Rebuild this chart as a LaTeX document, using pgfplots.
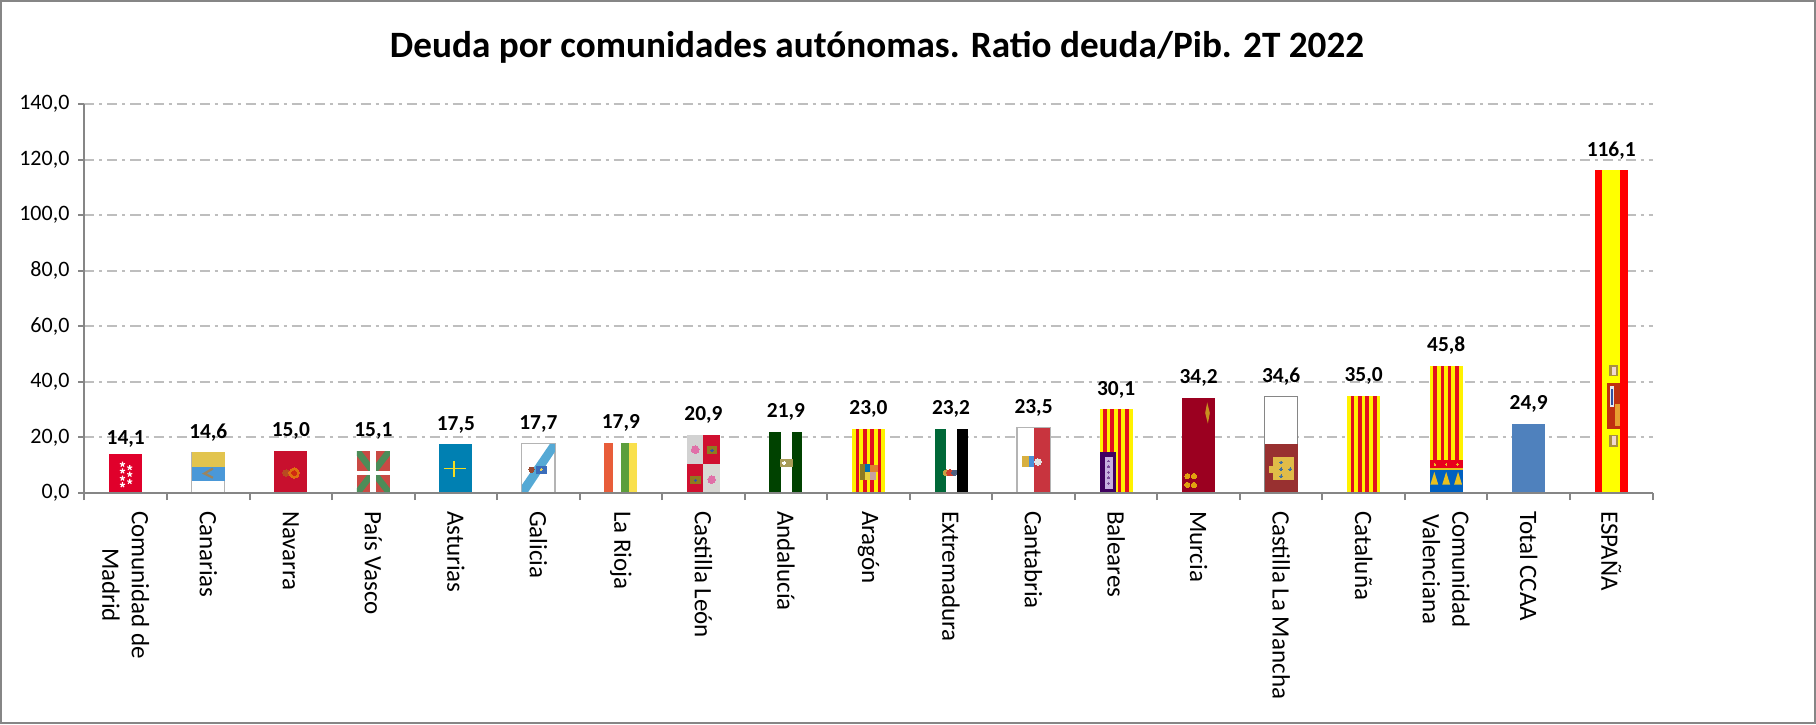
\documentclass[border=0pt]{standalone}
\usepackage{pgfplots}
\usepackage{pgfplotstable}
\usepackage{fontspec}
\setmainfont{Carlito}
\pgfplotsset{compat=1.18}

\definecolor{axisgray}{HTML}{868686}
\definecolor{gridgray}{HTML}{BEBEBE}

% category, value, label offset in pt
\pgfplotstableread{
cat val dy
1 14.1 -2.5
2 14.6 0
3 15.0 0
4 15.1 0
5 17.5 0
6 17.7 0
7 17.9 0
8 20.9 0
9 21.9 0
10 23.0 0
11 23.2 0
12 23.5 0
13 30.1 0
14 34.2 0
15 34.6 0
16 35.0 0
17 45.8 0
18 24.9 0
19 116.1 0
}\deuda

% flags are drawn in bar coordinates: u from 0 to 1 across the bar, y in axis units
\pgfplotsset{on/.style={forget plot,x filter/.expression={#1-0.2+0.4*x}}}
\newcommand\hx[1]{\xglobal\definecolor{c#1}{HTML}{#1}}
\newcommand\rc[6]{\hx{#1}\addplot[on=#2,draw=none,fill=c#1] coordinates {(#3,#5)(#4,#5)(#4,#6)(#3,#6)} --cycle;}
\newcommand\poly[3]{\hx{#1}\addplot[on=#2,draw=none,fill=c#1] coordinates {#3} --cycle;}
\newcommand\lin[4]{\hx{#1}\addplot[on=#2,draw=c#1,line width=#3,no marks] coordinates {#4};}
\newcommand\pts[4]{\hx{#1}\addplot[on=#2,only marks,mark=*,mark size=#3,mark options={solid,draw=c#1,fill=c#1,line width=0pt}] coordinates {#4};}
\newcommand\rim[3]{\hx{#2}\addplot[on=#1,draw=c#2,line width=0.6pt,no marks] coordinates {(0,0)(0,#3)(1,#3)(1,0)};}
\newcommand\barres[2]{% yellow with four red stripes
  \rc{FFF200}{#1}{0}{1}{0}{#2}
  \rc{E2101E}{#1}{.11}{.22}{0}{#2}
  \rc{E2101E}{#1}{.33}{.44}{0}{#2}
  \rc{E2101E}{#1}{.55}{.66}{0}{#2}
  \rc{E2101E}{#1}{.78}{.89}{0}{#2}}

\begin{document}
\begin{tikzpicture}
\useasboundingbox (0,0) rectangle (908pt,362pt);
\draw[line width=1pt,axisgray] (0.5pt,0.5pt) rectangle (907.5pt,361.5pt);
\begin{axis}[
  at={(42.25pt,115.5pt)},anchor=south west,
  scale only axis,width=784pt,height=194.5pt,
  xmin=0.5,xmax=19.5,ymin=0,ymax=140,
  axis x line=bottom,axis y line=left,
  axis line style={-,axisgray,line width=1pt},
  clip=false,
  ymajorgrids,
  grid style={gridgray,line width=1pt,dash pattern=on 5pt off 2.5pt on 1.5pt off 2.5pt},
  ytick={0,20,...,140},
  xtick={1,...,19},
  minor xtick={0.5,1.5,...,19.5},
  major x tick style={draw=none},
  minor tick style={axisgray,line width=1pt},
  ytick style={axisgray,line width=1pt},
  tick align=outside,
  major tick length=3pt,minor tick length=3.5pt,
  xticklabels={{Comunidad de\\Madrid},Canarias,Navarra,País Vasco,Asturias,Galicia,La Rioja,Castilla León,Andalucía,Aragón,Extremadura,Cantabria,Baleares,Murcia,Castilla La Mancha,Cataluña,{Comunidad\\Valenciana},Total CCAA,ESPAÑA},
  xticklabel style={rotate=-90,anchor=west,align=center,font=\fontsize{12.5}{14.7}\selectfont,yshift=0pt,xshift=2.5pt},
  yticklabel style={font=\fontsize{11}{13}\selectfont,xshift=-1pt},
  yticklabel={\pgfmathprintnumber[assume math mode=true,fixed,fixed zerofill,precision=1,use comma]{\tick}},
  title={\fontsize{18.6}{22}\selectfont\bfseries Deuda por comunidades autónomas. Ratio deuda/Pib. 2T 2022},
  title style={at={(0.5054,1.116)},anchor=center},
]
\addplot[ybar,bar width=16.5pt,draw=none,fill=white,forget plot,
  visualization depends on={\thisrow{dy}\as\dy},
  nodes near coords,
  nodes near coords style={font=\fontsize{10.7}{13}\selectfont\bfseries,yshift=\dy pt+2.2pt,
    /pgf/number format/.cd,assume math mode=true,fixed,fixed zerofill,precision=1,use comma},
] table[x=cat,y=val] {\deuda};

% 1 Madrid
\rc{E0002B}{1}{0}{1}{0}{14.1}
\addplot[on=1,only marks,mark=star,mark size=1.35pt,mark options={white,line width=.55pt}] coordinates {(.40,10.3)(.40,7.9)(.40,5.3)(.40,2.9)(.62,9.1)(.62,6.7)(.62,4.1)};
% 2 Canarias
\rim{2}{B4B4B4}{14.6}
\rc{4A98D8}{2}{0}{1}{4.4}{9.2}
\rc{E2C44E}{2}{0}{1}{9.2}{14.6}
\lin{9A8560}{2}{1.1pt}{(.64,8.8)(.38,7)(.64,5.5)}
% 3 Navarra
\rc{C8102E}{3}{0}{1}{0}{15}
\pts{B84A20}{3}{1.6pt}{(.36,7.2)}
\pts{E07010}{3}{2.6pt}{(.6,7.2)}
\pts{D02A10}{3}{1.2pt}{(.6,7.2)}
% 4 Pais Vasco
\rc{C94A44}{4}{0}{1}{0}{15.1}
\poly{4C8C58}{4}{(0,0)(.14,0)(1,13.4)(1,15.1)(.86,15.1)(0,1.7)}
\poly{4C8C58}{4}{(0,15.1)(.14,15.1)(1,1.7)(1,0)(.86,0)(0,13.4)}
\rc{FFFFFF}{4}{.41}{.58}{0}{15.1}
\rc{FFFFFF}{4}{0}{1}{6.5}{7.9}
% 5 Asturias
\rc{0080B2}{5}{0}{1}{0}{17.5}
\lin{F5DC20}{5}{.9pt}{(.13,8.8)(.80,8.8)}
\lin{F5DC20}{5}{.9pt}{(.45,11.5)(.45,5.9)}
% 6 Galicia
\rim{6}{B4B4B4}{17.7}
\poly{55A9D5}{6}{(0,0)(.17,0)(1,14.8)(1,17.7)(.85,17.7)(0,2.9)}
\rc{3A6DBA}{6}{.42}{.75}{6.9}{9.8}
\pts{9A4A30}{6}{1.3pt}{(.29,8.4)}
\pts{E8D060}{6}{.5pt}{(.58,8.4)}
% 7 La Rioja
\rc{E85D3A}{7}{0}{.25}{0}{17.9}
\rc{5C9E3C}{7}{.5}{.75}{0}{17.9}
\rc{F9E04C}{7}{.75}{1}{0}{17.9}
% 8 Castilla Leon
\rc{D2D2D2}{8}{0}{.5}{10.3}{20.9}
\rc{D01030}{8}{.5}{1}{10.3}{20.9}
\rc{D01030}{8}{0}{.5}{0}{10.3}
\rc{D8D8D4}{8}{.5}{1}{0}{10.3}
\pts{E070A8}{8}{1.9pt}{(.25,15.6)(.75,4.8)}
\rc{8F7A20}{8}{.6}{.92}{13.9}{17}
\rc{8F7A20}{8}{.1}{.42}{3.1}{6.2}
\pts{3050B0}{8}{.6pt}{(.76,15.4)(.26,4.6)}
% 9 Andalucia
\rc{004200}{9}{0}{1}{0}{21.9}
\rc{FFFFFF}{9}{.34}{.67}{0}{21.9}
\rc{A89C58}{9}{.33}{.7}{9.4}{12.2}
\pts{FFFFFF}{9}{.8pt}{(.45,10.8)}
% 10 Aragon
\barres{10}{23}
\rc{8F7A20}{10}{.24}{.38}{4.6}{10.3}
\rc{0070B0}{10}{.38}{.55}{7.5}{10.3}
\rc{E08030}{10}{.55}{.78}{7.5}{10}
\rc{E8D040}{10}{.38}{.55}{4.6}{7.5}
\rc{C8A0A0}{10}{.55}{.72}{4.6}{7.5}
% 11 Extremadura
\rc{006838}{11}{0}{.34}{0}{23.2}
\rc{000000}{11}{.67}{1}{0}{23.2}
\pts{C8A040}{11}{1.4pt}{(.35,7.3)}
\pts{D04030}{11}{1.6pt}{(.47,7.3)}
\pts{506080}{11}{1.3pt}{(.6,7.3)}
% 12 Cantabria
\rim{12}{B4B4B4}{23.5}
\rc{C8343E}{12}{.5}{1}{0}{23.5}
\rc{D8B040}{12}{.15}{.35}{9.2}{13.4}
\rc{4A90D8}{12}{.35}{.5}{9.2}{13.4}
\pts{E4E4E4}{12}{1.6pt}{(.63,11.2)}
% 13 Baleares
\barres{13}{30.1}
\rc{400060}{13}{0}{.5}{0}{14.7}
\rc{C8B0E0}{13}{.15}{.40}{1.3}{13}
\pts{7A4A9A}{13}{.45pt}{(.27,11.5)(.27,9.5)(.27,7.5)(.27,5.5)(.27,3.5)}
% 14 Murcia
\rc{9B0020}{14}{0}{1}{0}{34.2}
\pts{E0A010}{14}{1.3pt}{(.16,6.1)(.36,6.1)(.16,2.9)(.36,2.9)}
\poly{C89020}{14}{(.76,32.6)(.84,28.8)(.78,25)(.70,28.8)}
% 15 Castilla La Mancha
\rim{15}{868686}{34.6}
\rc{983030}{15}{0}{1}{0}{17.6}
\rc{E0BC48}{15}{.25}{.88}{4.5}{13}
\rc{E0BC48}{15}{.12}{.3}{7.3}{9.8}
\pts{4070A0}{15}{.7pt}{(.5,11)(.78,8.6)(.5,8.6)(.5,6)}
% 16 Cataluna
\barres{16}{35}
% 17 Comunidad Valenciana
\barres{17}{45.8}
\rc{E8001C}{17}{0}{1}{9}{11.7}
\rc{0060C0}{17}{0}{1}{0}{9}
\rc{E8C020}{17}{0}{1}{8.1}{9}
\poly{E8C020}{17}{(.14,7.6)(.26,3)(.02,3)}
\poly{E8C020}{17}{(.5,7.6)(.62,3)(.38,3)}
\poly{E8C020}{17}{(.86,7.6)(.98,3)(.74,3)}
\pts{E8C020}{17}{.4pt}{(.16,10.3)(.5,10.3)(.84,10.3)}
% 18 Total CCAA
\rc{4F81BD}{18}{0}{1}{0}{24.9}
% 19 ESPANA
\rc{FFFF00}{19}{0}{1}{0}{116.1}
\rc{FF0000}{19}{0}{.23}{0}{116.1}
\rc{FF0000}{19}{.78}{1}{0}{116.1}
\rc{A89040}{19}{.44}{.71}{42}{46}
\rc{A89040}{19}{.44}{.71}{16.6}{21}
\rc{F0D8D0}{19}{.52}{.63}{42.6}{45.4}
\rc{F0D8D0}{19}{.52}{.63}{17.2}{20.4}
\rc{C03010}{19}{.36}{.75}{23.2}{39.5}
\rc{E8E8F0}{19}{.46}{.58}{31}{38.5}
\rc{3050A0}{19}{.5}{.55}{31.5}{37.5}
\rc{E8A030}{19}{.6}{.75}{24}{32}

% axis line again, over the feet of the bars
\addplot[axisgray,line width=1pt,no marks,forget plot] coordinates {(0.5,0)(19.5,0)};
\end{axis}
\end{tikzpicture}
\end{document}
